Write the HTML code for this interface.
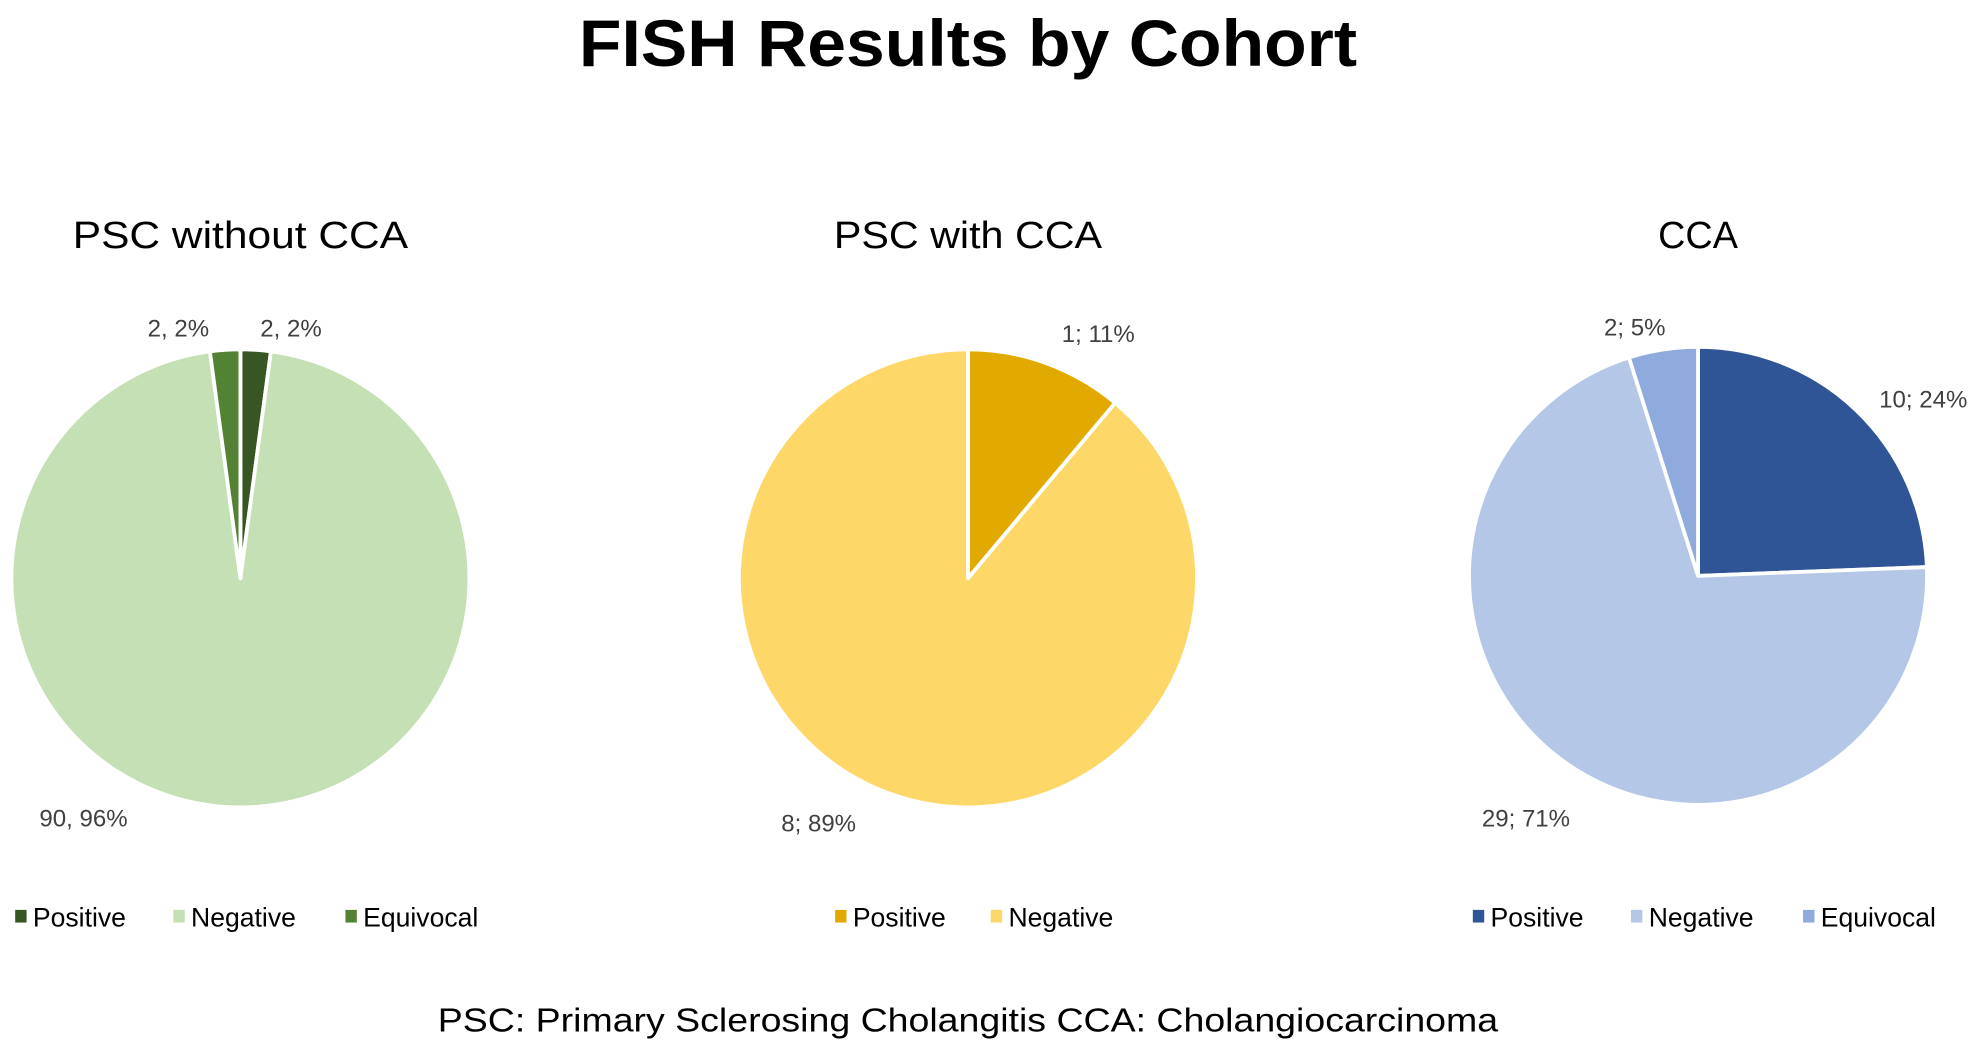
<!DOCTYPE html>
<html><head><meta charset="utf-8"><style>
html,body{margin:0;padding:0;background:#fff;width:1984px;height:1053px;overflow:hidden}
svg{display:block}
text{font-family:"Liberation Sans",sans-serif}
</style></head><body>
<svg id="chart" width="1984" height="1053" viewBox="0 0 1568 832" xmlns="http://www.w3.org/2000/svg">
<text x="765" y="52" text-anchor="middle" font-size="52" font-weight="bold" fill="#000" textLength="615" lengthAdjust="spacingAndGlyphs">FISH Results by Cohort</text>
<text x="765" y="815" text-anchor="middle" font-size="26" fill="#000" textLength="838" lengthAdjust="spacingAndGlyphs">PSC: Primary Sclerosing Cholangitis    CCA: Cholangiocarcinoma</text>
<g id="pies"></g>
</svg>
<script>
const cohorts = ["PSC without CCA", "PSC with CCA", "CCA"];
const categories1 = ["Positive", "Negative", "Equivocal"];
const values1 = [2, 90, 2];
const categories2 = ["Positive", "Negative"];
const values2 = [1, 8];
const categories3 = ["Positive", "Negative", "Equivocal"];
const values3 = [10, 29, 2];
const sep1 = ", ", sep2 = "; ", sep3 = "; ";

// layout (not data)
const layout = [
  {cx:190, cy:457, r:181, colors:["#375623","#c5e0b4","#548235"], titleW:265,
   labelPos:[[230,266],[66,653],[141,266]], legX:[12,137,273]},
  {cx:765, cy:457, r:181, colors:["#e2aa00","#fdd868"], titleW:212,
   labelPos:[[868,270],[647,657]], legX:[660,783]},
  {cx:1342, cy:455, r:181, colors:["#2f5597","#b4c7e7","#8faadc"], titleW:63,
   labelPos:[[1520,322],[1206,653],[1292,265]], legX:[1164,1289,1425]}
];
const NS = "http://www.w3.org/2000/svg";
const g = document.getElementById("pies");
const allCats = [categories1, categories2, categories3];
const allVals = [values1, values2, values3];
const seps = [sep1, sep2, sep3];
function pt(cx, cy, r, a){ return [cx + r*Math.sin(a), cy - r*Math.cos(a)]; }
cohorts.forEach((name, ci) => {
  const L = layout[ci], vals = allVals[ci], cats = allCats[ci];
  const total = vals.reduce((s,v)=>s+v,0);
  const t = document.createElementNS(NS, "text");
  
  
  t.setAttribute("x", L.cx); t.setAttribute("y", 196);
  t.setAttribute("text-anchor", "middle"); t.setAttribute("font-size", "30");
  t.setAttribute("textLength", L.titleW); t.setAttribute("lengthAdjust", "spacingAndGlyphs");
  t.textContent = name; g.appendChild(t);
  let a0 = 0;
  vals.forEach((v, i) => {
    const a1 = a0 + v/total*2*Math.PI;
    const p0 = pt(L.cx, L.cy, L.r, a0), p1 = pt(L.cx, L.cy, L.r, a1);
    const large = (a1 - a0) > Math.PI ? 1 : 0;
    const path = document.createElementNS(NS, "path");
    
    
    path.setAttribute("d", `M${L.cx},${L.cy} L${p0[0]},${p0[1]} A${L.r},${L.r} 0 ${large} 1 ${p1[0]},${p1[1]} Z`);
    path.setAttribute("fill", L.colors[i]); path.setAttribute("stroke", "#fff");
    path.setAttribute("stroke-width", "3"); path.setAttribute("stroke-linejoin", "round");
    g.appendChild(path);
    const lab = document.createElementNS(NS, "text");
    
    
    lab.setAttribute("x", L.labelPos[i][0]); lab.setAttribute("y", L.labelPos[i][1]);
    lab.setAttribute("text-anchor", "middle"); lab.setAttribute("font-size", "19"); lab.setAttribute("fill", "#404040");
    lab.textContent = v + seps[ci] + Math.round(v/total*100) + "%";
    g.appendChild(lab);
    const sq = document.createElementNS(NS, "rect");
    
    
    sq.setAttribute("x", L.legX[i]); sq.setAttribute("y", 719); sq.setAttribute("width", 9); sq.setAttribute("height", 10);
    sq.setAttribute("fill", L.colors[i]); g.appendChild(sq);
    const lt = document.createElementNS(NS, "text");
    
    
    lt.setAttribute("x", L.legX[i] + 14); lt.setAttribute("y", 732);
    lt.setAttribute("font-size", "21"); lt.setAttribute("fill", "#000");
    lt.textContent = cats[i]; g.appendChild(lt);
    a0 = a1;
  });
});
</script>
</body></html>
